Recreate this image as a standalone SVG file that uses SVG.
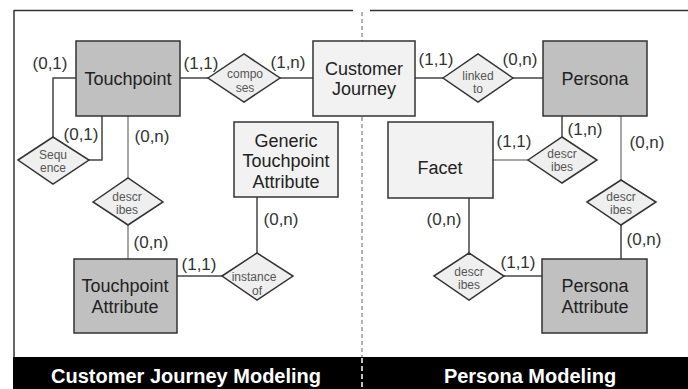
<svg xmlns="http://www.w3.org/2000/svg" width="688" height="389" viewBox="0 0 688 389">
<style>
text{font-family:"Liberation Sans",Arial,sans-serif;text-anchor:middle}
.dark{fill:#c0c0c0;stroke:#333;stroke-width:1.5}
.light{fill:#f2f2f2;stroke:#333;stroke-width:1.5}
.dia{fill:#efefef;stroke:#333;stroke-width:1.5}
.nt{font-size:18px;fill:#222}
.dt{font-size:12px;fill:#555}
.card{font-size:17px;fill:#333}
.conn line,.conn polyline{stroke:#444;stroke-width:1.5;fill:none}
.conn .lt{stroke:#888}
.bar{font-size:20px;font-weight:bold;fill:#fff}
</style>
<rect x="0" y="0" width="688" height="389" fill="#fff"/>
<g id="frame">
<line x1="14" y1="10.5" x2="353" y2="10.5" stroke="#333" stroke-width="1.5"/>
<line x1="370" y1="10.5" x2="688" y2="10.5" stroke="#333" stroke-width="1.5"/>
<line x1="14" y1="10" x2="14" y2="357" stroke="#333" stroke-width="1.5"/>
<line x1="362" y1="12" x2="362" y2="357" stroke="#999" stroke-width="1.5" stroke-dasharray="4,3"/>
<rect x="13" y="357" width="675" height="32" fill="#000"/>
<line x1="362" y1="358" x2="362" y2="389" stroke="#fff" stroke-width="1.5" stroke-dasharray="5,3"/>
<text class="bar" x="186" y="383">Customer Journey Modeling</text>
<text class="bar" x="530" y="383">Persona Modeling</text>
</g>
<g id="connectors" class="conn">
<line x1="180" y1="78" x2="208" y2="78"/>
<line x1="280" y1="78" x2="313" y2="78"/>
<line x1="415" y1="78" x2="443" y2="78"/>
<line x1="513" y1="78" x2="543" y2="78"/>
<polyline points="76,78 53,78 53,137"/>
<polyline points="89,160 102,160 102,116"/>
<line class="lt" x1="128" y1="116" x2="128" y2="178"/>
<line class="lt" x1="128" y1="225" x2="128" y2="259"/>
<line x1="257" y1="197" x2="257" y2="253"/>
<line x1="177" y1="276" x2="222" y2="276"/>
<line x1="562" y1="116" x2="562" y2="137"/>
<line class="lt" x1="493" y1="160" x2="528" y2="160"/>
<line class="lt" x1="621" y1="116" x2="621" y2="180"/>
<line x1="621" y1="225" x2="621" y2="259"/>
<line x1="469" y1="198" x2="469" y2="253"/>
<line x1="504" y1="276" x2="542" y2="276"/>
</g>
<g id="touchpoint"><rect class="dark" x="76" y="41" width="104" height="75"/><text class="nt" x="128" y="85">Touchpoint</text></g>
<g id="customer-journey"><rect class="light" x="313" y="41" width="102" height="75"/><text class="nt" x="364" y="75">Customer</text><text class="nt" x="364" y="95">Journey</text></g>
<g id="generic-touchpoint-attribute"><rect class="light" x="234" y="122" width="104" height="75"/><text class="nt" x="286" y="147">Generic</text><text class="nt" x="286" y="167">Touchpoint</text><text class="nt" x="286" y="188">Attribute</text></g>
<g id="persona"><rect class="dark" x="543" y="41" width="104" height="75"/><text class="nt" x="595" y="85">Persona</text></g>
<g id="facet"><rect class="light" x="388" y="122" width="105" height="76"/><text class="nt" x="440" y="174">Facet</text></g>
<g id="touchpoint-attribute"><rect class="dark" x="74" y="259" width="103" height="74"/><text class="nt" x="125" y="292">Touchpoint</text><text class="nt" x="125" y="313">Attribute</text></g>
<g id="persona-attribute"><rect class="dark" x="542" y="259" width="105" height="74"/><text class="nt" x="595" y="292">Persona</text><text class="nt" x="595" y="313">Attribute</text></g>
<g id="composes"><polygon class="dia" points="208,78 244,54 280,78 244,102"/><text class="dt" x="245" y="78" font-size="13">compo</text><text class="dt" x="245" y="92" font-size="13">ses</text></g>
<g id="linked-to"><polygon class="dia" points="443,78 478,54 513,78 478,102"/><text class="dt" x="478" y="80" font-size="13">linked</text><text class="dt" x="478" y="93" font-size="13">to</text></g>
<g id="sequence"><polygon class="dia" points="18,160 53,137 89,160 53,184"/><text class="dt" x="53" y="159">Sequ</text><text class="dt" x="53" y="172">ence</text></g>
<g id="describes-tp"><polygon class="dia" points="93,202 128,178 163,202 128,225"/><text class="dt" x="127" y="201">descr</text><text class="dt" x="127" y="214">ibes</text></g>
<g id="instance-of"><polygon class="dia" points="222,276 257,253 293,276 257,300"/><text class="dt" x="254" y="281" font-size="14">instance</text><text class="dt" x="257" y="295" font-size="14">of</text></g>
<g id="describes-facet-persona"><polygon class="dia" points="528,160 562,137 597,160 562,183"/><text class="dt" x="562" y="158">descr</text><text class="dt" x="562" y="171">ibes</text></g>
<g id="describes-persona-attr"><polygon class="dia" points="587,202 621,180 656,202 621,225"/><text class="dt" x="621" y="201">descr</text><text class="dt" x="621" y="214">ibes</text></g>
<g id="describes-facet-attr"><polygon class="dia" points="434,276 469,253 504,276 469,300"/><text class="dt" x="469" y="276">descr</text><text class="dt" x="469" y="289">ibes</text></g>
<g id="cardinalities">
<text class="card" x="50" y="69">(0,1)</text>
<text class="card" x="201" y="69">(1,1)</text>
<text class="card" x="288" y="68">(1,n)</text>
<text class="card" x="436" y="65">(1,1)</text>
<text class="card" x="520" y="65">(0,n)</text>
<text class="card" x="585" y="135">(1,n)</text>
<text class="card" x="514" y="147">(1,1)</text>
<text class="card" x="647" y="148">(0,n)</text>
<text class="card" x="644" y="245">(0,n)</text>
<text class="card" x="518" y="268">(1,1)</text>
<text class="card" x="444" y="225">(0,n)</text>
<text class="card" x="81" y="140">(0,1)</text>
<text class="card" x="152" y="142">(0,n)</text>
<text class="card" x="151" y="248">(0,n)</text>
<text class="card" x="199" y="270">(1,1)</text>
<text class="card" x="281" y="225">(0,n)</text>
</g>
</svg>
